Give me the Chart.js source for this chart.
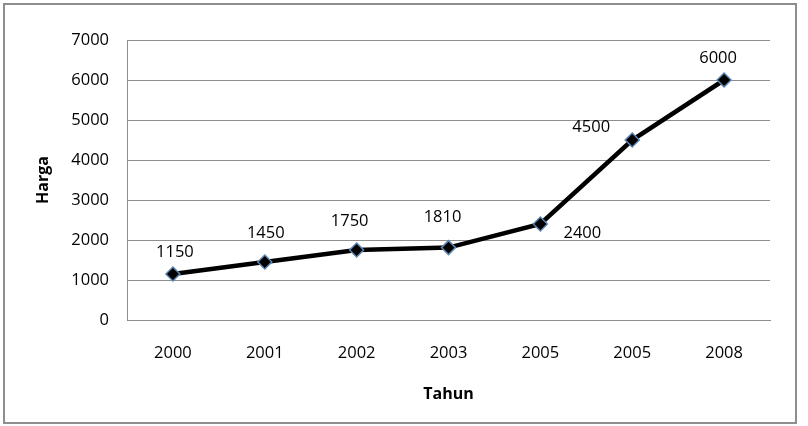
<!DOCTYPE html>
<html>
<head>
<meta charset="utf-8">
<script src="https://cdn.jsdelivr.net/npm/chart.js@4/dist/chart.umd.min.js"></script>
<style>
  html, body { margin: 0; padding: 0; background: #fff; }
  #wrap { position: relative; width: 808px; height: 426px; }
  #chart { position: absolute; left: 0; top: 0; }
</style>
</head>
<body>
<div id="wrap"><canvas id="chart" width="808" height="426"></canvas></div>
<script>
// Harga per Tahun
const years = ['2000', '2001', '2002', '2003', '2005', '2005', '2008'];
const harga = [1150, 1450, 1750, 1810, 2400, 4500, 6000];
const yTicks = [0, 1000, 2000, 3000, 4000, 5000, 6000, 7000];

// label placement relative to each point (dx, dy in px)
const labelShift = [[2, -22], [1, -29], [-7, -29], [-6, -30], [42, 9], [-41, -13], [-6, -22]];

const FONT = '"Open Sans", Lato, sans-serif';

const frame = {
    id: 'frame',
    beforeDraw(chart) {
        const c = chart.ctx;
        c.save();
        c.fillStyle = '#fff';
        c.fillRect(0, 0, chart.width, chart.height);
        c.strokeStyle = '#8e8e8e';
        c.lineWidth = 2;
        c.strokeRect(4, 4, 792, 419);
        c.restore();
    }
};

const valueLabels = {
    id: 'valueLabels',
    afterDatasetsDraw(chart) {
        const c = chart.ctx;
        const meta = chart.getDatasetMeta(0);
        c.save();
        c.fillStyle = '#000';
        c.font = '16.5px ' + FONT;
        c.textAlign = 'center';
        c.textBaseline = 'middle';
        meta.data.forEach((pt, i) => {
            const s = labelShift[i];
            c.fillText(String(harga[i]), pt.x + s[0], pt.y + s[1]);
        });
        c.restore();
    }
};

new Chart(document.getElementById('chart'), {
    type: 'line',
    data: {
        labels: years,
        datasets: [{
            data: harga,
            borderColor: '#000',
            borderWidth: 4.5,
            tension: 0,
            pointStyle: 'rectRot',
            pointRadius: 7,
            pointBackgroundColor: '#000',
            pointBorderColor: '#5b84b1',
            pointBorderWidth: 1.5
        }]
    },
    options: {
        responsive: false,
        animation: false,
        layout: { padding: { left: 30, right: 38, top: 40, bottom: 18 } },
        plugins: {
            legend: { display: false },
            tooltip: { enabled: false }
        },
        scales: {
            x: {
                offset: true,
                grid: { display: false, drawTicks: false, offset: true },
                border: { display: true, color: '#8e8e8e', width: 1 },
                ticks: { color: '#000', font: { family: FONT, size: 16.5 }, padding: 23, maxRotation: 0, autoSkip: false },
                title: { display: true, text: 'Tahun', color: '#000', font: { family: FONT, size: 16, weight: 'bold' } },
                afterFit(axis) { axis.height = 88; }
            },
            y: {
                min: 0,
                max: 7000,
                afterBuildTicks(axis) { axis.ticks = yTicks.map(v => ({ value: v })); },
                grid: { color: '#8e8e8e', drawTicks: false },
                border: { display: true, color: '#8e8e8e', width: 1 },
                ticks: { color: '#000', font: { family: FONT, size: 16.5 }, padding: 18, callback: v => String(v) },
                title: { display: true, text: 'Harga', color: '#000', font: { family: FONT, size: 16, weight: 'bold' } },
                afterFit(axis) { axis.width = 97; }
            }
        }
    },
    plugins: [frame, valueLabels]
});
</script>
</body>
</html>
